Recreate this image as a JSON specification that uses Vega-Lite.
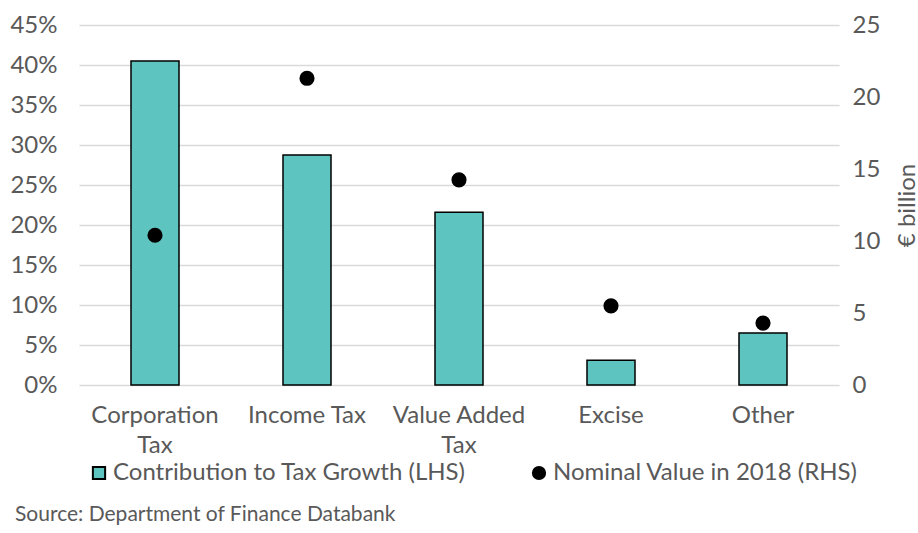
{
  "$schema": "https://vega.github.io/schema/vega-lite/v6.json",
  "autosize": {"type": "none"},
  "width": 760,
  "height": 360,
  "padding": {"left": 79, "top": 25, "right": 79, "bottom": 148},
  "config": {
    "font": "Lato",
    "view": {"stroke": null},
    "axis": {"labelFont": "Lato", "titleFont": "Lato", "labelColor": "#595959", "titleColor": "#595959", "labelFontSize": 24, "titleFontSize": 24, "titleFontWeight": "normal", "domain": false, "ticks": false},
    "legend": {
      "title": null, "orient": "none", "legendX": 8, "legendY": 436, "direction": "horizontal", "columns": 2,
      "columnPadding": 61, "labelFontSize": 24, "labelFont": "Lato", "labelColor": "#595959", "labelLimit": 500, "symbolSize": 150, "labelOffset": 2,
      "symbolStrokeColor": "black", "symbolStrokeWidth": 2
    }
  },
  "title": {"text": "Source: Department of Finance Databank", "orient": "bottom", "anchor": "start", "frame": "group", "dx": -64, "offset": 19, "fontSize": 21, "fontWeight": "normal", "color": "#595959", "font": "Lato"},
  "data": {
    "values": [
      {"category": "Corporation Tax", "contribution": 0.405, "nominal": 10.4},
      {"category": "Income Tax", "contribution": 0.2875, "nominal": 21.3},
      {"category": "Value Added Tax", "contribution": 0.216, "nominal": 14.25},
      {"category": "Excise", "contribution": 0.031, "nominal": 5.5},
      {"category": "Other", "contribution": 0.065, "nominal": 4.3}
    ]
  },
  "encoding": {
    "x": {
      "field": "category", "type": "nominal", "sort": null, "title": null,
      "scale": {"paddingInner": 0, "paddingOuter": 0},
      "axis": {"labelAngle": 0, "labelPadding": 18, "labelLineHeight": 30, "grid": false, "labelLimit": 300,
        "labelExpr": "datum.label == 'Corporation Tax' ? ['Corporation', 'Tax'] : datum.label == 'Value Added Tax' ? ['Value Added', 'Tax'] : datum.label"}
    }
  },
  "layer": [
    {
      "mark": {"type": "bar", "size": 48, "stroke": "black", "strokeWidth": 1.5},
      "encoding": {
        "y": {"field": "contribution", "type": "quantitative", "title": null,
          "scale": {"domain": [0, 0.45]},
          "axis": {"orient": "left", "format": ".0%", "values": [0, 0.05, 0.1, 0.15, 0.2, 0.25, 0.3, 0.35, 0.4, 0.45], "labelPadding": 22, "grid": true, "gridColor": "#d9d9d9", "gridWidth": 1.5}},
        "color": {
          "datum": "Contribution to Tax Growth (LHS)",
          "scale": {"domain": ["Contribution to Tax Growth (LHS)", "Nominal Value in 2018 (RHS)"], "range": ["#5ec4bf", "#000000"]},
          "legend": {
            "encode": {"symbols": {"update": {
              "shape": {"signal": "datum.value == 'Contribution to Tax Growth (LHS)' ? 'square' : 'circle'"},
              "stroke": {"value": "black"},
              "strokeWidth": {"value": 2}}}}
          }
        }
      }
    },
    {
      "mark": {"type": "point", "filled": true, "size": 230, "opacity": 1},
      "encoding": {
        "y": {"field": "nominal", "type": "quantitative", "title": "€ billion",
          "scale": {"domain": [0, 25]},
          "axis": {"orient": "right", "values": [0, 5, 10, 15, 20, 25], "labelPadding": 13, "grid": false, "titleAngle": 270, "titleBaseline": "top", "titlePadding": 16}},
        "color": {
          "datum": "Nominal Value in 2018 (RHS)",
          "legend": {
            "encode": {"symbols": {"update": {
              "shape": {"signal": "datum.value == 'Contribution to Tax Growth (LHS)' ? 'square' : 'circle'"},
              "stroke": {"value": "black"},
              "strokeWidth": {"value": 2}}}}
          }
        }
      }
    }
  ],
  "resolve": {"scale": {"y": "independent"}}
}
